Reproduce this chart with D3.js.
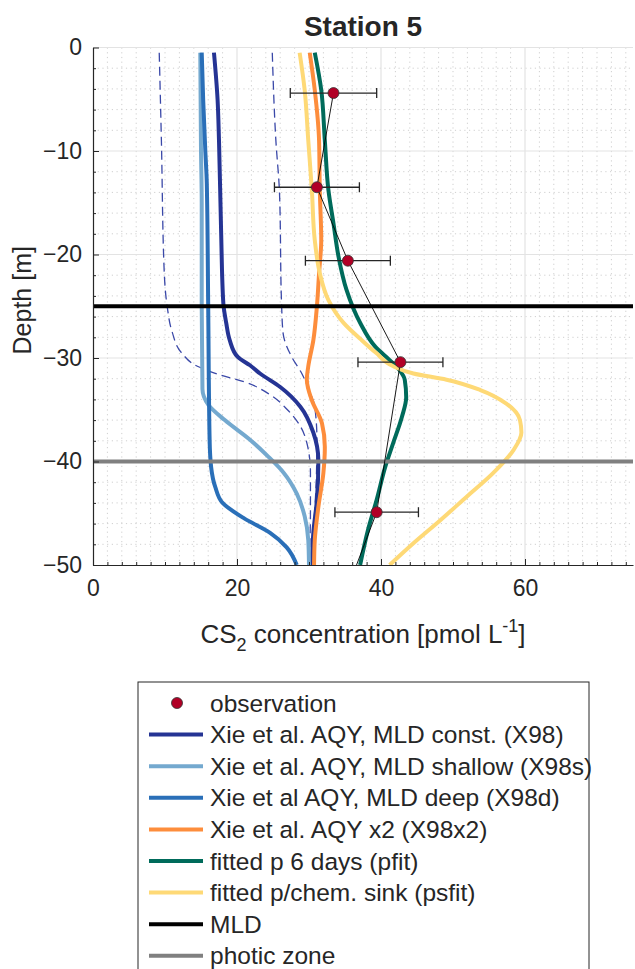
<!DOCTYPE html>
<html>
<head>
<meta charset="utf-8">
<script src="https://cdn.jsdelivr.net/npm/d3@7"></script>
<style>
  body { margin: 0; background: #fff; }
  text { font-family: "Liberation Sans", Arial, sans-serif; fill: #262626; }
</style>
</head>
<body>
<div id="chart"></div>
<script>
// values: [concentration, depth]
const x98Const = [[16.8,-0.5],[17.3,-5],[17.5,-9],[17.8,-18],[18.1,-24.7],[18.5,-26.6],[19.0,-28.3],[20.1,-29.9],[21.8,-30.7],[23.2,-31.5],[26,-32.8],[28.8,-34.7],[30.6,-37.2],[31.3,-39.9],[31.1,-43.7],[30.6,-46.9],[30.4,-50]];
const x98Shallow = [[14.9,-0.5],[15.0,-10],[15.1,-15],[15.1,-25],[15.2,-33],[16.0,-34.5],[18.3,-36],[21.8,-37.9],[24.3,-39.5],[26.5,-41.1],[28.3,-43.1],[29.4,-45.3],[29.9,-47.6],[30.0,-50]];
const x98Deep = [[15.1,-0.5],[15.3,-5],[15.6,-10],[15.8,-13],[16.0,-25],[16.2,-38],[16.4,-40.5],[17.0,-42.5],[18.0,-44],[21.0,-45.5],[24.6,-46.9],[26.9,-48.3],[28.3,-50]];
const x98x2 = [[30.1,-0.5],[30.8,-4.1],[31.4,-9],[31.5,-13.8],[31.7,-18.6],[31.4,-21.8],[31.1,-25],[30.6,-28.3],[29.9,-30.8],[29.7,-32.1],[30.4,-34.1],[31.8,-36.3],[32.2,-38.6],[32.0,-41.1],[31.3,-44.4],[30.8,-47.6],[30.7,-50]];
const pfit = [[30.8,-0.5],[31.7,-4.1],[32.2,-9],[32.7,-13.8],[33.4,-17],[34.1,-20.2],[35.2,-23.4],[37.1,-26.6],[39.2,-28.9],[41.2,-30.2],[42.6,-31.2],[43.3,-32.1],[43.5,-33.8],[42.9,-35.7],[41.7,-38.2],[40.6,-40.5],[39.4,-43.7],[38.2,-46.6],[37.1,-50]];
const psfit = [[28.7,-0.5],[29.4,-4.1],[29.9,-9],[30.4,-13.8],[30.8,-18.6],[31.5,-21.8],[32.7,-24.4],[34.8,-26.6],[37.2,-28.2],[39.3,-29.5],[41.7,-30.8],[44.5,-31.5],[49.1,-32.1],[53.8,-33.1],[57.4,-34.4],[59.3,-36],[59.5,-37.2],[58.4,-38.9],[55.6,-41.1],[51.9,-43.4],[48.2,-45.7],[44.5,-47.9],[41.2,-50]];
const dashedLow = [[9.2,-0.5],[9.5,-9],[9.9,-21.8],[10.3,-25],[11.0,-27.5],[12.3,-29.5],[14.5,-30.8],[17.5,-31.6],[21,-32.3],[24.5,-33.5],[27,-35],[28.8,-36.6],[29.8,-38.5],[30.2,-41],[30.2,-45],[30.0,-50]];
const dashedHigh = [[24.9,-0.5],[25.4,-9],[25.9,-14],[26.2,-25],[26.4,-27.6],[27.6,-29.9],[29.0,-31.5],[30.0,-33.1],[30.8,-34.7],[31.1,-37.9],[31.0,-42],[30.7,-46],[30.5,-50]];

const obsConc = [33.4, 31.1, 35.4, 42.7, 39.4];
const obsDepth = [-4.4, -13.5, -20.6, -30.4, -44.9];
const obsErr = [6.0, 5.9, 5.9, 5.9, 5.8];
const obsLineConc = [33.4, 31.1, 35.4, 42.7, 39.4, 36.6];
const obsLineDepth = [-4.4, -13.5, -20.6, -30.4, -44.9, -50];

const mldDepth = -25;
const photicDepth = -40;

const xTicks = [0, 20, 40, 60];
const yTicks = [-50, -40, -30, -20, -10, 0];

const legendLabels = [
  "observation",
  "Xie et al. AQY, MLD const. (X98)",
  "Xie et al. AQY, MLD shallow (X98s)",
  "Xie et al AQY, MLD deep (X98d)",
  "Xie et al. AQY x2 (X98x2)",
  "fitted p 6 days (pfit)",
  "fitted p/chem. sink (psfit)",
  "MLD",
  "photic zone"
];
const legendColors = ["#b10026", "#253494", "#74a9cf", "#2a6fb8", "#fd8d3c", "#006b5b", "#fed976", "#000000", "#808080"];

const width = 635, height = 969;

const svg = d3.select("#chart").append("svg")
  .attr("width", width)
  .attr("height", height);

const x = d3.scaleLinear().domain([0, 75]).range([93, 633]);
const y = d3.scaleLinear().domain([-50, 0]).range([565, 47.5]);

svg.append("defs").append("clipPath").attr("id", "plotClip")
  .append("rect")
  .attr("x", x(0)).attr("y", y(0))
  .attr("width", x(75) - x(0)).attr("height", y(-50) - y(0));

// grid
const grid = svg.append("g");
const minorX = d3.range(2, 75, 2).filter(v => v % 20 !== 0);
const minorY = d3.range(-48, 0, 2).filter(v => v % 10 !== 0);

grid.selectAll("line.mx").data(minorX).join("line")
  .attr("x1", d => x(d)).attr("x2", d => x(d))
  .attr("y1", y(0)).attr("y2", y(-50))
  .attr("stroke", "#cfcfcf").attr("stroke-width", 1)
  .attr("stroke-dasharray", "1.2,3.5");
grid.selectAll("line.my").data(minorY).join("line")
  .attr("x1", x(0)).attr("x2", x(75))
  .attr("y1", d => y(d)).attr("y2", d => y(d))
  .attr("stroke", "#cfcfcf").attr("stroke-width", 1)
  .attr("stroke-dasharray", "1.2,3.5");
grid.selectAll("line.gx").data(xTicks.slice(1)).join("line")
  .attr("x1", d => x(d)).attr("x2", d => x(d))
  .attr("y1", y(0)).attr("y2", y(-50))
  .attr("stroke", "#e3e3e3").attr("stroke-width", 1.2);
grid.selectAll("line.gy").data(yTicks.slice(1)).join("line")
  .attr("x1", x(0)).attr("x2", x(75))
  .attr("y1", d => y(d)).attr("y2", d => y(d))
  .attr("stroke", "#e3e3e3").attr("stroke-width", 1.2);

const plot = svg.append("g").attr("clip-path", "url(#plotClip)");

const line = d3.line()
  .x(d => x(d[0]))
  .y(d => y(d[1]))
  .curve(d3.curveMonotoneY);

// dashed profiles
[dashedLow, dashedHigh].forEach(s => {
  plot.append("path")
    .datum(s)
    .attr("d", line)
    .attr("fill", "none")
    .attr("stroke", "#3a48a8")
    .attr("stroke-width", 1.3)
    .attr("stroke-dasharray", "9,5");
});

// model profiles
const models = [
  { data: x98Const, color: legendColors[1] },
  { data: x98Shallow, color: legendColors[2] },
  { data: x98Deep, color: legendColors[3] },
  { data: x98x2, color: legendColors[4] },
  { data: pfit, color: legendColors[5] },
  { data: psfit, color: legendColors[6] }
];
models.forEach(m => {
  plot.append("path")
    .datum(m.data)
    .attr("d", line)
    .attr("fill", "none")
    .attr("stroke", m.color)
    .attr("stroke-width", 4)
    .attr("stroke-linejoin", "round");
});

// MLD + photic zone
plot.append("line")
  .attr("x1", x(0)).attr("x2", x(75))
  .attr("y1", y(mldDepth)).attr("y2", y(mldDepth))
  .attr("stroke", "#000").attr("stroke-width", 4);
plot.append("line")
  .attr("x1", x(0)).attr("x2", x(75))
  .attr("y1", y(photicDepth)).attr("y2", y(photicDepth))
  .attr("stroke", "#808080").attr("stroke-width", 4);

// thin line through observations
const obsLine = obsLineConc.map((c, i) => [c, obsLineDepth[i]]);
plot.append("path")
  .datum(obsLine)
  .attr("d", d3.line().x(d => x(d[0])).y(d => y(d[1])))
  .attr("fill", "none")
  .attr("stroke", "#000")
  .attr("stroke-width", 0.9);

// error bars
const obs = obsConc.map((c, i) => ({ c: c, d: obsDepth[i], e: obsErr[i] }));
const err = plot.append("g").attr("stroke", "#262626").attr("stroke-width", 1.3);
err.selectAll("line.bar").data(obs).join("line")
  .attr("x1", d => x(d.c - d.e)).attr("x2", d => x(d.c + d.e))
  .attr("y1", d => y(d.d)).attr("y2", d => y(d.d));
err.selectAll("line.capl").data(obs).join("line")
  .attr("x1", d => x(d.c - d.e)).attr("x2", d => x(d.c - d.e))
  .attr("y1", d => y(d.d) - 5).attr("y2", d => y(d.d) + 5);
err.selectAll("line.capr").data(obs).join("line")
  .attr("x1", d => x(d.c + d.e)).attr("x2", d => x(d.c + d.e))
  .attr("y1", d => y(d.d) - 5).attr("y2", d => y(d.d) + 5);

plot.selectAll("circle.obs").data(obs).join("circle")
  .attr("cx", d => x(d.c)).attr("cy", d => y(d.d))
  .attr("r", 5.5)
  .attr("fill", legendColors[0])
  .attr("stroke", "#333").attr("stroke-width", 0.8);

// axes
const xAxis = svg.append("g")
  .attr("transform", `translate(0, ${y(-50)})`)
  .call(d3.axisBottom(x).tickValues(xTicks).tickSize(-6).tickSizeOuter(0).tickPadding(15).tickFormat(d3.format("d")));
const yAxis = svg.append("g")
  .attr("transform", `translate(${x(0)}, 0)`)
  .call(d3.axisLeft(y).tickValues(yTicks).tickSize(-6).tickSizeOuter(0).tickPadding(11).tickFormat(d3.format("d")));

svg.append("g")
  .attr("transform", `translate(0, ${y(-50)})`)
  .call(d3.axisBottom(x).tickValues(minorX).tickSize(-3).tickSizeOuter(0).tickFormat(""))
  .select(".domain").remove();
svg.append("g")
  .attr("transform", `translate(${x(0)}, 0)`)
  .call(d3.axisLeft(y).tickValues(minorY).tickSize(-3).tickSizeOuter(0).tickFormat(""))
  .select(".domain").remove();

svg.selectAll(".tick line").attr("stroke", "#262626");
[xAxis, yAxis].forEach(a => {
  a.select(".domain").attr("stroke", "#262626").attr("stroke-width", 1.2);
  a.selectAll("text").style("font-size", "23px").attr("fill", "#262626");
});

// title and labels
svg.append("text")
  .attr("x", (x(0) + x(75)) / 2)
  .attr("y", 36)
  .attr("text-anchor", "middle")
  .style("font-size", "28px")
  .style("font-weight", "bold")
  .text("Station 5");

svg.append("text")
  .attr("transform", `translate(31, ${(y(0) + y(-50)) / 2 - 6}) rotate(-90)`)
  .attr("text-anchor", "middle")
  .style("font-size", "25px")
  .text("Depth [m]");

const xLabel = svg.append("text")
  .attr("x", (x(0) + x(75)) / 2)
  .attr("y", 643)
  .attr("text-anchor", "middle")
  .style("font-size", "26px");
xLabel.append("tspan").text("CS");
xLabel.append("tspan").attr("dy", 8).style("font-size", "18px").text("2");
xLabel.append("tspan").attr("dy", -8).text(" concentration [pmol L");
xLabel.append("tspan").attr("dy", -11).style("font-size", "18px").text("-1");
xLabel.append("tspan").attr("dy", 11).text("]");

// legend
const legend = svg.append("g").attr("transform", "translate(138, 682)");
legend.append("rect")
  .attr("x", 0).attr("y", 0)
  .attr("width", 451).attr("height", 300)
  .attr("fill", "#fff")
  .attr("stroke", "#262626").attr("stroke-width", 1);

const rows = legend.selectAll("g.row").data(legendLabels).join("g")
  .attr("transform", (d, i) => `translate(0, ${21 + i * 31.6})`);
rows.filter((d, i) => i === 0).append("circle")
  .attr("cx", 39).attr("cy", 0).attr("r", 5.5)
  .attr("fill", legendColors[0]).attr("stroke", "#333").attr("stroke-width", 0.8);
rows.filter((d, i) => i > 0).append("line")
  .attr("x1", 11).attr("x2", 65)
  .attr("y1", 0).attr("y2", 0)
  .attr("stroke", (d, i) => legendColors[i + 1])
  .attr("stroke-width", 4);
rows.append("text")
  .attr("x", 72).attr("y", 0)
  .attr("dy", "0.35em")
  .style("font-size", "24.5px")
  .text(d => d);
</script>
</body>
</html>
